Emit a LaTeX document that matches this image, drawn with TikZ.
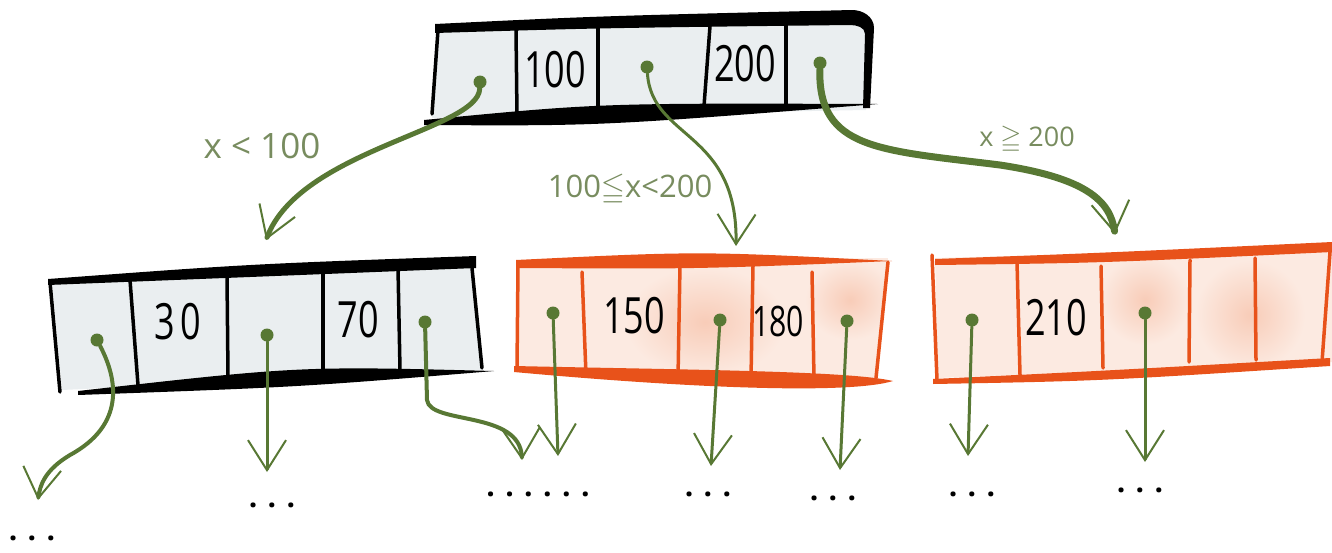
\documentclass[tikz,border=0pt]{standalone}
\usepackage{fontspec}
\usepackage{amssymb}
\usepackage{graphicx}
\setmainfont{Open Sans}
\usetikzlibrary{arrows.meta}

\definecolor{leaf}{RGB}{88,120,52}
\definecolor{leaftext}{RGB}{120,140,95}
\definecolor{paper}{RGB}{234,238,240}
\definecolor{hot}{RGB}{232,82,26}
\definecolor{peach}{RGB}{252,234,225}
\definecolor{blush}{RGB}{248,204,184}
\newcommand{\narrow}[1]{\scalebox{0.72}[1]{#1}}

\begin{document}
\begin{tikzpicture}[x=1pt,y=-1pt,
  ptr/.style={circle, fill=leaf, minimum size=13pt, inner sep=0pt},
  key/.style={font=\fontsize{50}{52}\selectfont, inner sep=0pt},
  cond/.style={text=leaftext, inner sep=0pt},
  more/.style={font=\fontsize{30}{32}\selectfont\bfseries, inner sep=0pt},
  edge/.style={draw=leaf, line cap=round,
    -{Straight Barb[length=30pt,width=38pt,line width=2pt]}},
  wall/.style={line width=3.5pt, line cap=round},
  blot/.style={inner color=blush, outer color=peach, draw=none}
]
\useasboundingbox (0,0) rectangle (1332,552);

% root node
\fill[paper] (438,30) -- (866,20) -- (866,110) -- (432,118) -- cycle;
\fill (435,24) .. controls (600,16) .. (852,10) to[out=0,in=90] (874,28) -- (870,108) -- (863,108)
  -- (865,34) to[out=90,in=0] (850,25) .. controls (600,28) .. (435,33) -- cycle;
\draw[wall] (438,30) -- (432,114);
\fill (424,120) .. controls (600,103) .. (878,104) .. controls (600,126) .. (424,125) -- cycle;
\draw[wall] (516,30) -- (517,116);
\draw[wall] (598,26) -- (598,114);
\draw[wall] (710,26) -- (704,106);
\draw[wall] (786,24) -- (786,108);
\node[key] (k100) at (555,70) {\narrow{100}};
\node[key] (k200) at (745,64) {\narrow{200}};
\node[ptr] (r0) at (480,82) {};
\node[ptr] (r1) at (647,67) {};
\node[ptr] (r2) at (820,63) {};

% left child
\fill[paper] (52,282) -- (472,264) -- (482,370) -- (62,390) -- cycle;
\fill (48,279) .. controls (250,264) .. (476,256) -- (476,268) .. controls (250,277) .. (48,285) -- cycle;
\draw[wall] (50,282) -- (60,392);
\draw[wall] (472,268) -- (482,368);
\fill (78,391) .. controls (300,366) .. (494,371) .. controls (300,387) .. (78,395) -- cycle;
\draw[wall] (130,280) -- (138,385);
\draw[wall] (227,276) -- (228,376);
\draw[wall] (323,272) -- (323,378);
\draw[wall] (398,268) -- (400,370);
\node[key] (k30) at (178,322) {\narrow{3\,0}};
\node[key] (k70) at (358,320) {\narrow{70}};
\node[ptr] (a0) at (97,340) {};
\node[ptr] (a1) at (267,335) {};
\node[ptr] (a2) at (425,322) {};

% middle child
\begin{scope}
  \clip (518,262) -- (888,258) -- (878,378) -- (518,368) -- cycle;
  \fill[peach] (518,262) -- (888,258) -- (878,378) -- (518,368) -- cycle;
  \shade[blot] (705,322) ellipse (80 and 55);
  \shade[blot] (850,300) ellipse (45 and 40);
\end{scope}
\fill[hot] (516,260) .. controls (700,251) .. (892,261) .. controls (700,269) .. (516,268) -- cycle;
\draw[wall,hot] (518,265) -- (517,368);
\draw[wall,hot] (888,262) -- (876,378);
\fill[hot] (514,366) .. controls (700,370) and (850,371) .. (893,381)
  .. controls (850,394) and (700,389) .. (514,372) -- cycle;
\draw[wall,hot] (582,272) -- (586,375);
\draw[wall,hot] (680,265) -- (678,378);
\draw[wall,hot] (753,266) -- (751,378);
\draw[wall,hot] (812,272) -- (814,378);
\node[key] (k150) at (634,316) {\narrow{150}};
\node[key, font=\fontsize{42}{44}\selectfont] (k180) at (778,321) {\narrow{180}};
\node[ptr] (b0) at (553,313) {};
\node[ptr] (b1) at (720,320) {};
\node[ptr] (b2) at (847,321) {};

% right child
\begin{scope}
  \clip (935,258) -- (1332,248) -- (1332,362) -- (938,378) -- cycle;
  \fill[peach] (935,258) -- (1332,248) -- (1332,362) -- (938,378) -- cycle;
  \shade[blot] (1145,300) ellipse (45 and 45);
  \shade[blot] (1250,315) ellipse (55 and 55);
\end{scope}
\fill[hot] (935,259) .. controls (1100,253) .. (1332,242) -- (1332,252)
  .. controls (1100,263) .. (935,265) -- cycle;
\draw[wall,hot] (932,255) -- (937,380);
\draw[wall,hot] (1330,252) -- (1322,362);
\fill[hot] (933,379) .. controls (1100,371) .. (1330,358) -- (1330,366)
  .. controls (1100,381) .. (933,384) -- cycle;
\draw[wall,hot] (1017,262) -- (1020,375);
\draw[wall,hot] (1101,266) -- (1103,368);
\draw[wall,hot] (1190,260) -- (1189,362);
\draw[wall,hot] (1255,258) -- (1256,360);
\node[key] (k210) at (1056,318) {\narrow{210}};
\node[ptr] (c0) at (972,320) {};
\node[ptr] (c1) at (1145,313) {};

% arrows to the children
\coordinate (ta) at (266,240);
\coordinate (tb) at (736,246);
\coordinate (tc) at (1115,234);
\draw[edge, line width=5pt] (r0) .. controls (478,130) and (300,150) .. (ta);
\draw[edge, line width=3pt] (r1) .. controls (652,140) and (738,130) .. (tb);
\draw[edge, line width=7pt] (r2) .. controls (818,150) and (880,150) .. (1000,165)
  .. controls (1085,178) and (1110,200) .. (tc);
\node[cond, font=\fontsize{35}{37}\selectfont] (l0) at (262,146) {x < 100};
\node[cond, font=\fontsize{31}{33}\selectfont] (l1) at (630,190) {100$\leqq$x<200};
\node[cond, font=\fontsize{27}{29}\selectfont] (l2) at (1027,140) {x $\geqq$ 200};

% arrows to the next level
\coordinate (ea0) at (38,500);
\coordinate (ea1) at (267,472);
\coordinate (ea2) at (522,460);
\coordinate (eb0) at (558,456);
\coordinate (eb1) at (711,466);
\coordinate (eb2) at (840,470);
\coordinate (ec0) at (968,456);
\coordinate (ec1) at (1145,462);
\draw[edge, line width=4pt] (a0) .. controls (118,380) and (125,425) .. (70,455)
  .. controls (45,470) and (40,485) .. (ea0);
\draw[edge, line width=3pt] (a1) -- (ea1);
\draw[edge, line width=4pt] (a2) -- (427,400) .. controls (430,425) and (520,410) .. (ea2);
\draw[edge, line width=3pt] (b0) -- (eb0);
\draw[edge, line width=3pt] (b1) -- (eb1);
\draw[edge, line width=3pt] (b2) -- (eb2);
\draw[edge, line width=3pt] (c0) -- (ec0);
\draw[edge, line width=3pt] (c1) -- (ec1);

% more levels
\node[more] (m0) at (32,538) {. . .};
\node[more] (m1) at (272,505) {. . .};
\node[more] (m2) at (538,494) {. . . . . .};
\node[more] (m3) at (708,494) {. . .};
\node[more] (m4) at (833,498) {. . .};
\node[more] (m5) at (972,494) {. . .};
\node[more] (m6) at (1140,490) {. . .};
\end{tikzpicture}
\end{document}
